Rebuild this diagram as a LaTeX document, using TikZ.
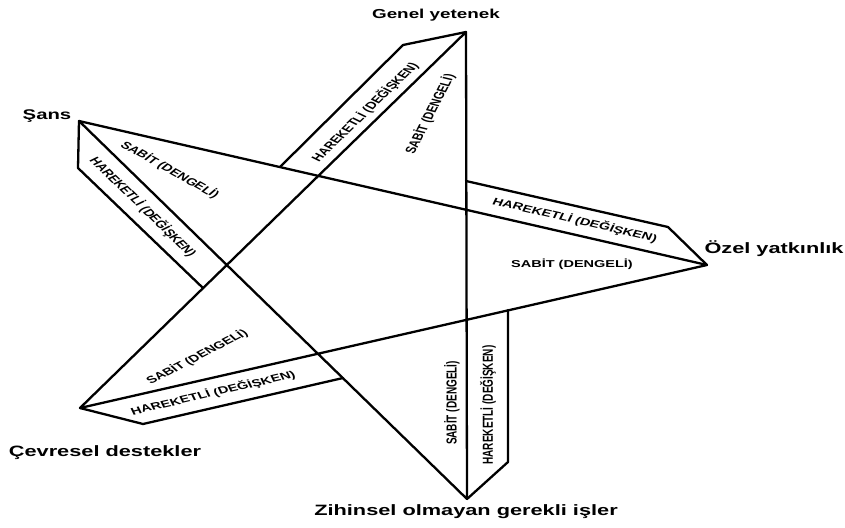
\documentclass[tikz,border=0pt]{standalone}
\usepackage{fontspec}
\setmainfont{Liberation Sans}
\usepackage{tikz}
\tikzset{
x=1pt, y=-1pt, % one unit is one pixel, y runs down
star/.style={line width=2.3pt, line join=round, line cap=round}, % heavy black lines
pointname/.style={font=\bfseries\fontsize{15}{18}\selectfont, anchor=base, xscale=1.45}, % names at the points
part/.style={font=\bfseries\fontsize{10}{12}\selectfont, xscale=1.45}, % texts inside the star, drawn wide
}
\begin{document}
\begin{tikzpicture}
    \useasboundingbox (0,0) rectangle (845,527);
    % points of the star
    \coordinate (genel) at (466,32);
    \coordinate (sans) at (79,121);
    \coordinate (ozel) at (707,265);
    \coordinate (cevre) at (80,408);
    \coordinate (zihin) at (467,499);
    % corners of the bands
    \coordinate (genel1) at (403,45);
    \coordinate (genel2) at (280,167);
    \coordinate (sans1) at (78,168);
    \coordinate (sans2) at (203,288);
    \coordinate (ozel1) at (668,227);
    \coordinate (ozel2) at (466,181);
    \coordinate (cevre1) at (143,424);
    \coordinate (cevre2) at (343,378);
    \coordinate (zihin1) at (508,462);
    \coordinate (zihin2) at (508,310);

    \draw[star] (genel) -- (zihin) -- (sans) -- (ozel) -- (cevre) -- cycle;
    \draw[star] (genel) -- (genel1) -- (genel2)
          (sans) -- (sans1) -- (sans2)
          (ozel) -- (ozel1) -- (ozel2)
          (cevre) -- (cevre1) -- (cevre2)
          (zihin) -- (zihin1) -- (zihin2);

    \node[pointname, font=\bfseries\fontsize{13}{16}\selectfont] (tgenel) at (436,19) {Genel yetenek};
    \node[pointname, font=\bfseries\fontsize{14}{17}\selectfont] (tsans) at (47,119) {Şans};
    \node[pointname] (tozel) at (774,253) {Özel yatkınlık};
    \node[pointname] (tcevre) at (105,456) {Çevresel destekler};
    \node[pointname] (tzihin) at (466,515) {Zihinsel olmayan gerekli işler};

    \node[part, rotate=70.6] (sgenel) at (430,114) {SABİT (DENGELİ)};
    \node[part, rotate=54.5] (hgenel) at (365,112) {HAREKETLİ (DEĞİŞKEN)};
    \node[part, rotate=-38.8] (ssans) at (170,170) {SABİT (DENGELİ)};
    \node[part, rotate=-54.5] (hsans) at (143,207) {HAREKETLİ (DEĞİŞKEN)};
    \node[part, rotate=-18.5] (hozel) at (575,220) {HAREKETLİ (DEĞİŞKEN)};
    \node[part] (sozel) at (572,264) {SABİT (DENGELİ)};
    \node[part, rotate=36.5] (scevre) at (197,357) {SABİT (DENGELİ)};
    \node[part, rotate=18.5] (hcevre) at (213,393) {HAREKETLİ (DEĞİŞKEN)};
    \node[part, rotate=90] (szihin) at (452,403) {SABİT (DENGELİ)};
    \node[part, rotate=90] (hzihin) at (488,405) {HAREKETLİ (DEĞİŞKEN)};
\end{tikzpicture}
\end{document}
